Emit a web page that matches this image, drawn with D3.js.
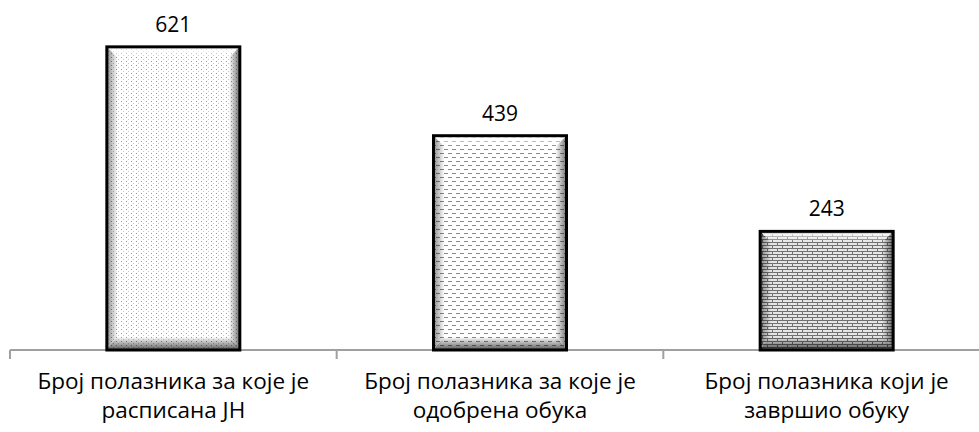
<!DOCTYPE html>
<html>
<head>
<meta charset="utf-8">
<script src="https://cdn.jsdelivr.net/npm/d3@7"></script>
<style>
  html, body { margin: 0; padding: 0; background: #fff; }
  svg { display: block; }
</style>
</head>
<body>
<div id="root"></div>
<script>
// data
const categories = ['jh', 'odobrena', 'zavrsio'];
const values = [621, 439, 243];
const categoryLines = [
    ['Број полазника за које је', 'расписана ЈН'],
    ['Број полазника за које је', 'одобрена обука'],
    ['Број полазника који је', 'завршио обуку'],
];
const patterns = ['dots', 'dashes', 'bricks'];

const Width = 979;
const Height = 432;
const Axis = { Left: 10, Right: 990, Y: 350 };
const YMax = 717;
const BarWidth = 133;
const Bevel = 11;

const svg = d3.select('#root')
    .append('svg')
    .attr('width', Width)
    .attr('height', Height);

const defs = svg.append('defs');

// pattern fills
function addPattern(id, w, h, draw) {
    const p = defs.append('pattern')
        .attr('id', id)
        .attr('patternUnits', 'userSpaceOnUse')
        .attr('width', w)
        .attr('height', h);
    p.append('rect').attr('width', w).attr('height', h).attr('fill', '#fff');
    draw(p);
}

addPattern('dots', 5, 4, p => {
    p.append('rect').attr('x', 1).attr('y', 1).attr('width', 1).attr('height', 1).attr('fill', '#9a9a9a');
    p.append('rect').attr('x', 3).attr('y', 3).attr('width', 1).attr('height', 1).attr('fill', '#c8c8c8');
});

addPattern('dashes', 8, 8, p => {
    p.append('rect').attr('x', 0).attr('y', 1).attr('width', 4).attr('height', 1).attr('fill', '#8a8a8a');
    p.append('rect').attr('x', 4).attr('y', 5).attr('width', 4).attr('height', 1).attr('fill', '#8a8a8a');
});

addPattern('bricks', 10, 6, p => {
    p.append('rect').attr('width', 10).attr('height', 6).attr('fill', '#e6e6e6');
    p.append('rect').attr('x', 0).attr('y', 2).attr('width', 10).attr('height', 1).attr('fill', '#707070');
    p.append('rect').attr('x', 0).attr('y', 5).attr('width', 10).attr('height', 1).attr('fill', '#707070');
    p.append('rect').attr('x', 2).attr('y', 0).attr('width', 1).attr('height', 2).attr('fill', '#707070');
    p.append('rect').attr('x', 7).attr('y', 3).attr('width', 1).attr('height', 2).attr('fill', '#707070');
});

// bevel gradients
function addGradient(id, x1, y1, x2, y2, color, o1, o2) {
    const g = defs.append('linearGradient')
        .attr('id', id)
        .attr('x1', x1).attr('y1', y1).attr('x2', x2).attr('y2', y2);
    g.append('stop').attr('offset', 0).attr('stop-color', color).attr('stop-opacity', o1);
    g.append('stop').attr('offset', 1).attr('stop-color', color).attr('stop-opacity', o2);
}
addGradient('bevel-left', 0, 0, 1, 0, '#000', 0.45, 0);
addGradient('bevel-right', 0, 0, 1, 0, '#000', 0, 0.55);
addGradient('bevel-top', 0, 0, 0, 1, '#fff', 0.9, 0);
addGradient('bevel-bottom', 0, 0, 0, 1, '#000', 0, 0.65);

// scales
const x = d3.scaleBand()
    .domain(categories)
    .range([Axis.Left, Axis.Right])
    .paddingInner(1 - BarWidth / ((Axis.Right - Axis.Left) / categories.length))
    .paddingOuter((1 - BarWidth / ((Axis.Right - Axis.Left) / categories.length)) / 2);

const y = d3.scaleLinear()
    .domain([0, YMax])
    .range([Axis.Y, 0]);

// axis line and boundary ticks
const axisG = svg.append('g')
    .attr('stroke', '#a0a0a0')
    .attr('stroke-width', 2);

axisG.append('line')
    .attr('x1', Axis.Left).attr('x2', Axis.Right)
    .attr('y1', Axis.Y).attr('y2', Axis.Y);

axisG.selectAll('.tick')
    .data(d3.range(categories.length + 1))
    .join('line')
    .attr('class', 'tick')
    .attr('x1', i => Axis.Left + x.step() * i)
    .attr('x2', i => Axis.Left + x.step() * i)
    .attr('y1', Axis.Y)
    .attr('y2', Axis.Y + 9);

// bars
const bars = svg.append('g')
    .selectAll('g')
    .data(categories.map((c, i) => ({ c, v: values[i], p: patterns[i] })))
    .join('g');

bars.each(function (d) {
    const g = d3.select(this);
    const bx = x(d.c);
    const by = y(d.v);
    const bw = x.bandwidth();
    const bh = y(0) - by;
    const b = Bevel;

    g.append('rect')
        .attr('x', bx).attr('y', by).attr('width', bw).attr('height', bh)
        .attr('fill', `url(#${d.p})`);

    const pts = arr => arr.map(p => p.join(',')).join(' ');
    g.append('polygon')
        .attr('points', pts([[bx, by], [bx + bw, by], [bx + bw - b, by + b], [bx + b, by + b]]))
        .attr('fill', 'url(#bevel-top)');
    g.append('polygon')
        .attr('points', pts([[bx, by], [bx + b, by + b], [bx + b, by + bh - b], [bx, by + bh]]))
        .attr('fill', 'url(#bevel-left)');
    g.append('polygon')
        .attr('points', pts([[bx + bw, by], [bx + bw - b, by + b], [bx + bw - b, by + bh - b], [bx + bw, by + bh]]))
        .attr('fill', 'url(#bevel-right)');
    g.append('polygon')
        .attr('points', pts([[bx, by + bh], [bx + b, by + bh - b - 2], [bx + bw - b, by + bh - b - 2], [bx + bw, by + bh]]))
        .attr('fill', 'url(#bevel-bottom)');

    g.append('rect')
        .attr('x', bx).attr('y', by).attr('width', bw).attr('height', bh)
        .attr('fill', 'none')
        .attr('stroke', '#000')
        .attr('stroke-width', 3);
});

// value labels
svg.append('g')
    .attr('font-family', '"Open Sans", sans-serif')
    .attr('font-size', 21)
    .attr('fill', '#000')
    .attr('text-anchor', 'middle')
    .selectAll('text')
    .data(categories.map((c, i) => ({ c, v: values[i] })))
    .join('text')
    .attr('x', d => x(d.c) + x.bandwidth() / 2)
    .attr('y', d => y(d.v) - 15)
    .text(d => d.v);

// category labels, one text per line
const labelData = [];
categories.forEach((c, i) => {
    categoryLines[i].forEach((l, j) => labelData.push({ c, l, j }));
});

svg.append('g')
    .attr('font-family', '"Open Sans", sans-serif')
    .attr('font-size', 22.5)
    .attr('fill', '#000')
    .attr('text-anchor', 'middle')
    .selectAll('text')
    .data(labelData)
    .join('text')
    .attr('x', d => x(d.c) + x.bandwidth() / 2)
    .attr('y', d => 389 + d.j * 29)
    .text(d => d.l);
</script>
</body>
</html>
